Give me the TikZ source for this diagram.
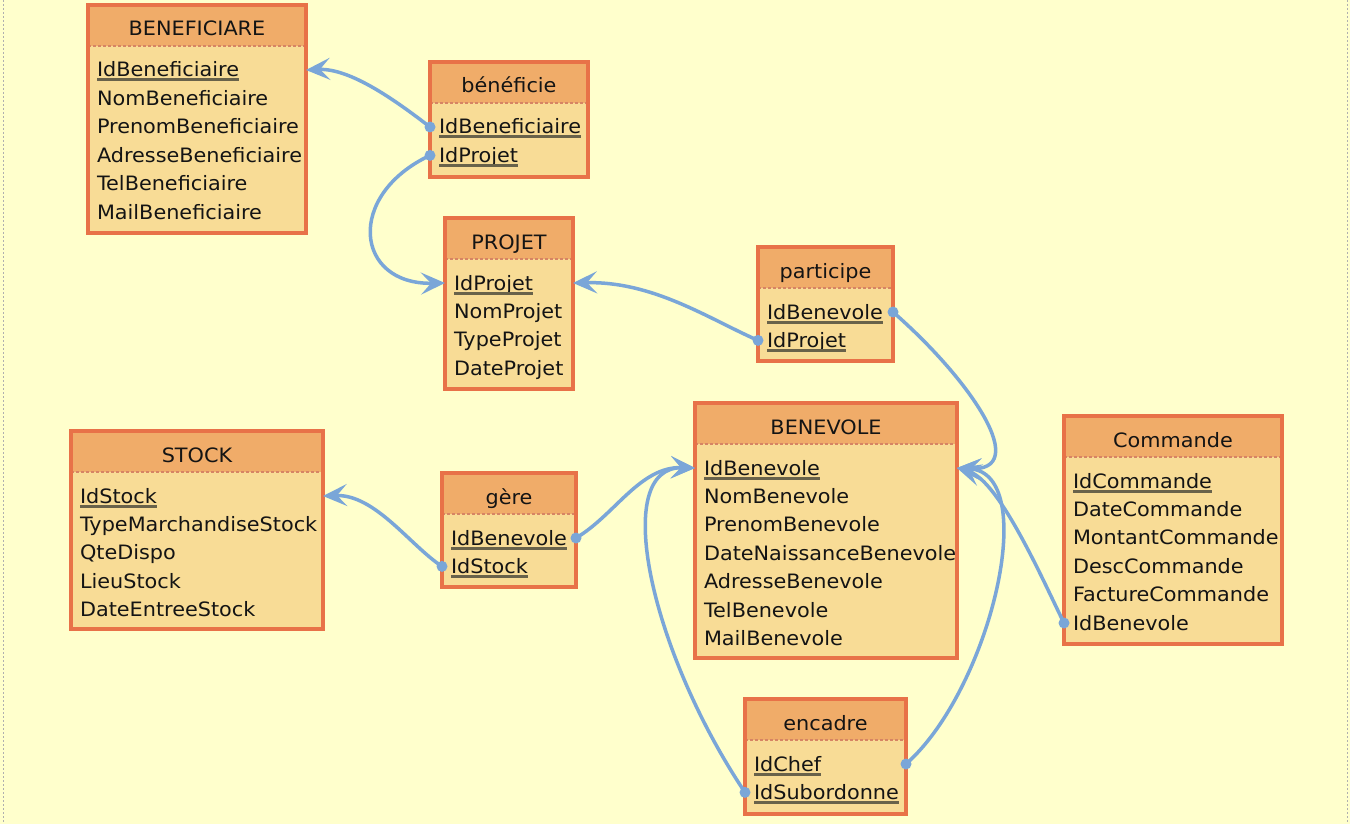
\documentclass[tikz,border=0pt]{standalone}
\usepackage{fontspec}
\setmainfont{DejaVu Sans}[FakeStretch=1.05]
\usetikzlibrary{arrows.meta,calc}
\definecolor{bgc}{RGB}{255,255,204}
\definecolor{headc}{RGB}{240,172,105}
\definecolor{bodyc}{RGB}{248,220,150}
\definecolor{bordc}{RGB}{232,114,72}
\definecolor{sepc}{RGB}{214,132,100}
\definecolor{linkc}{RGB}{122,166,216}
\definecolor{pkc}{RGB}{105,98,74}
\definecolor{txtc}{RGB}{20,20,20}
\definecolor{framec}{RGB}{175,175,175}
\newcommand\erfont{\fontsize{19.8}{23}\selectfont}
\tikzset{
  tbody/.style={fill=bodyc, anchor=north west, inner sep=0pt, outer sep=0pt},
  thead/.style={fill=headc, anchor=north west, inner sep=0pt, outer sep=0pt, minimum height=41pt},
  ttitle/.style={anchor=base, inner sep=0pt, text=txtc, font=\erfont},
  tsep/.style={draw=sepc, line width=1.2pt, dash pattern=on 3pt off 2pt},
  tborder/.style={draw=bordc, line width=3.2pt},
  attr/.style={anchor=base west, inner sep=0pt, outer sep=0pt, text=txtc, font=\erfont, text height=19pt, text depth=5pt},
  pkline/.style={draw=pkc, line width=3pt},
  link/.style={draw=linkc, line width=3.5pt, -{Stealth[length=24pt,width=22pt,inset=10pt]}},
  dot/.style={fill=linkc},
  frameline/.style={draw=framec, line width=1pt, dash pattern=on 2pt off 2pt}
}
\newcommand\erbox[6]{%
  \node[tbody, minimum width=#4pt, minimum height=#5pt] (#1) at (#2,#3) {};
  \node[thead, minimum width=#4pt] (#1-h) at (#2,#3) {};
  \node[ttitle] (#1-t) at ($(#1-h.north)+(0,31)$) {#6};
  \draw[tsep] (#1-h.south west) -- (#1-h.south east);
  \draw[tborder] (#1.north west) rectangle (#1.south east);
}
\newcommand\erattr[3]{%
  \node[attr] (#1-#2) at ($(#1.north west)+(9,{72+28.4*(#2-1)})$) {#3};
}
\newcommand\erpk[1]{%
  \draw[pkline] ([yshift=-3pt]#1.base west) -- ([yshift=-3pt]#1.base east);
}
\begin{document}
\begin{tikzpicture}[x=1pt,y=-1pt]
\fill[bgc] (0,0) rectangle (1350,824);
\useasboundingbox (0,0) rectangle (1350,824);
\draw[frameline] (3,0) -- (3,824);
\draw[frameline] (1347,0) -- (1347,824);

% BENEFICIARE
\erbox{BENEF}{88}{5}{218}{228}{BENEFICIARE}
\erattr{BENEF}{1}{IdBeneficiaire}
\erattr{BENEF}{2}{NomBeneficiaire}
\erattr{BENEF}{3}{PrenomBeneficiaire}
\erattr{BENEF}{4}{AdresseBeneficiaire}
\erattr{BENEF}{5}{TelBeneficiaire}
\erattr{BENEF}{6}{MailBeneficiaire}
\erpk{BENEF-1}

% beneficie
\erbox{BNF}{430}{62}{158}{115}{bénéficie}
\erattr{BNF}{1}{IdBeneficiaire}
\erattr{BNF}{2}{IdProjet}
\erpk{BNF-1}\erpk{BNF-2}

% PROJET
\erbox{PROJ}{445}{218}{128}{171}{PROJET}
\erattr{PROJ}{1}{IdProjet}
\erattr{PROJ}{2}{NomProjet}
\erattr{PROJ}{3}{TypeProjet}
\erattr{PROJ}{4}{DateProjet}
\erpk{PROJ-1}

% participe
\erbox{PART}{758}{247}{135}{114}{participe}
\erattr{PART}{1}{IdBenevole}
\erattr{PART}{2}{IdProjet}
\erpk{PART-1}\erpk{PART-2}

% BENEVOLE
\erbox{BENEV}{695}{403}{262}{255}{BENEVOLE}
\erattr{BENEV}{1}{IdBenevole}
\erattr{BENEV}{2}{NomBenevole}
\erattr{BENEV}{3}{PrenomBenevole}
\erattr{BENEV}{4}{DateNaissanceBenevole}
\erattr{BENEV}{5}{AdresseBenevole}
\erattr{BENEV}{6}{TelBenevole}
\erattr{BENEV}{7}{MailBenevole}
\erpk{BENEV-1}

% STOCK
\erbox{STOCK}{71}{431}{252}{198}{STOCK}
\erattr{STOCK}{1}{IdStock}
\erattr{STOCK}{2}{TypeMarchandiseStock}
\erattr{STOCK}{3}{QteDispo}
\erattr{STOCK}{4}{LieuStock}
\erattr{STOCK}{5}{DateEntreeStock}
\erpk{STOCK-1}

% gere
\erbox{GERE}{442}{473}{134}{114}{gère}
\erattr{GERE}{1}{IdBenevole}
\erattr{GERE}{2}{IdStock}
\erpk{GERE-1}\erpk{GERE-2}

% Commande
\erbox{CMD}{1064}{416}{218}{228}{Commande}
\erattr{CMD}{1}{IdCommande}
\erattr{CMD}{2}{DateCommande}
\erattr{CMD}{3}{MontantCommande}
\erattr{CMD}{4}{DescCommande}
\erattr{CMD}{5}{FactureCommande}
\erattr{CMD}{6}{IdBenevole}
\erpk{CMD-1}

% encadre
\erbox{ENC}{745}{699}{161}{115}{encadre}
\erattr{ENC}{1}{IdChef}
\erattr{ENC}{2}{IdSubordonne}
\erpk{ENC-1}\erpk{ENC-2}

% connectors
\draw[link] (BNF.west |- BNF-1) .. controls +(-35,-27) and +(44,-2) .. (BENEF.east |- BENEF-1);
\draw[link] (BNF.west |- BNF-2) .. controls +(-85,40) and +(-90,2) .. (PROJ.west |- PROJ-1);
\draw[link] (PART.west |- PART-2) .. controls +(-50,-22) and +(80,-2) .. (PROJ.east |- PROJ-1);
\draw[link] (PART.east |- PART-1) .. controls +(80,70) and +(75,4) .. (BENEV.east |- BENEV-1);
\draw[link] (GERE.east |- GERE-1) .. controls +(39,-23) and +(-55,-2) .. (BENEV.west |- BENEV-1);
\draw[link] (GERE.west |- GERE-2) .. controls +(-32,-21) and +(52,-2) .. (STOCK.east |- STOCK-1);
\draw[link] (ENC.west |- ENC-2) .. controls +(-95,-142) and +(-85,-2) .. (BENEV.west |- BENEV-1);
\draw[link] (ENC.east |- ENC-1) .. controls +(84,-74) and +(85,5) .. (BENEV.east |- BENEV-1);
\draw[link] (CMD.west |- CMD-6) .. controls +(-19,-38) and +(43,13) .. (BENEV.east |- BENEV-1);

\fill[dot] (BNF.west |- BNF-1) circle (5.5pt);
\fill[dot] (BNF.west |- BNF-2) circle (5.5pt);
\fill[dot] (PART.west |- PART-2) circle (5.5pt);
\fill[dot] (PART.east |- PART-1) circle (5.5pt);
\fill[dot] (GERE.east |- GERE-1) circle (5.5pt);
\fill[dot] (GERE.west |- GERE-2) circle (5.5pt);
\fill[dot] (ENC.west |- ENC-2) circle (5.5pt);
\fill[dot] (ENC.east |- ENC-1) circle (5.5pt);
\fill[dot] (CMD.west |- CMD-6) circle (5.5pt);
\end{tikzpicture}
\end{document}
